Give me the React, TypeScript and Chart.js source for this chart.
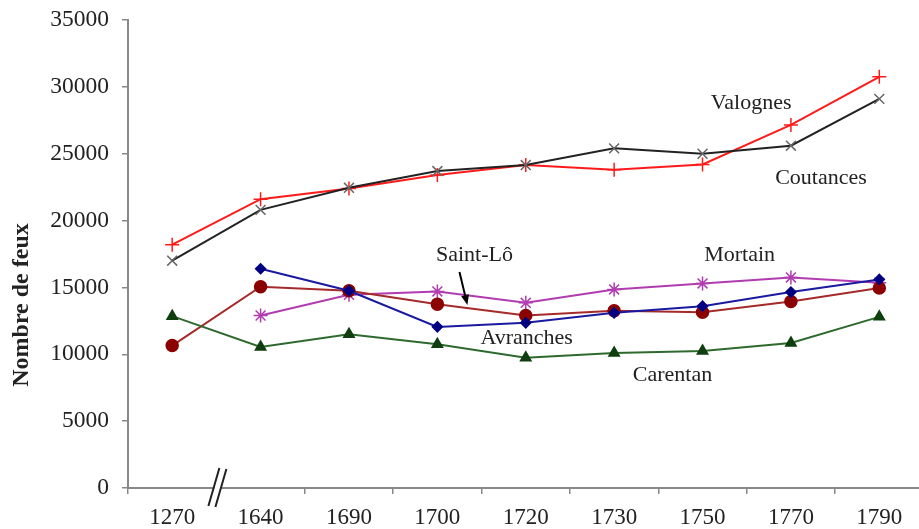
import React, { useEffect, useRef } from "react";
import { Chart, registerables } from "chart.js";

Chart.register(...registerables);

const years = ["1270", "1640", "1690", "1700", "1720", "1730", "1750", "1770", "1790"];
const valognes = [18200, 21600, 22400, 23400, 24150, 23800, 24200, 27150, 30750];
const coutances = [17000, 20800, 22450, 23700, 24150, 25400, 25000, 25600, 29100];
const mortain = [null, 12900, 14450, 14700, 13850, 14850, 15300, 15750, 15350];
const saintLo = [10650, 15050, 14750, 13750, 12900, 13250, 13150, 13950, 14950];
const avranches = [null, 16400, 14750, 12050, 12350, 13100, 13600, 14650, 15600];
const carentan = [12850, 10550, 11500, 10750, 9750, 10100, 10250, 10850, 12800];
const yMax = 35000;
const yStep = 5000;

// annotations: [text, fractional category index, value]
const annotations: [string, number, number][] = [
  ["Valognes", 6.55, 28800],
  ["Coutances", 7.34, 23200],
  ["Mortain", 6.42, 17430],
  ["Saint-Lô", 3.42, 17430],
  ["Avranches", 4.01, 11220],
  ["Carentan", 5.66, 8450],
];
const arrowFrom: [number, number] = [3.25, 16160];
const arrowTo: [number, number] = [3.34, 13690];
const yTitle = "Nombre de feux";

const FONT = "'Liberation Serif', 'Times New Roman', serif";

const overlay = {
  id: "overlay",
  afterDraw(chart: any) {
    const ctx = chart.ctx;
    const xs = chart.scales.x;
    const ys = chart.scales.y;
    ctx.save();
    ctx.fillStyle = "#222";
    ctx.font = `22px ${FONT}`;
    ctx.textAlign = "center";
    ctx.textBaseline = "middle";
    for (const [t, i, v] of annotations) {
      ctx.fillText(t, xs.getPixelForValue(i), ys.getPixelForValue(v));
    }
    const x1 = xs.getPixelForValue(arrowFrom[0]);
    const y1 = ys.getPixelForValue(arrowFrom[1]);
    const x2 = xs.getPixelForValue(arrowTo[0]);
    const y2 = ys.getPixelForValue(arrowTo[1]);
    const ang = Math.atan2(y2 - y1, x2 - x1);
    ctx.strokeStyle = "#000";
    ctx.lineWidth = 2;
    ctx.beginPath();
    ctx.moveTo(x1, y1);
    ctx.lineTo(x2 - 6 * Math.cos(ang), y2 - 6 * Math.sin(ang));
    ctx.stroke();
    ctx.fillStyle = "#000";
    ctx.beginPath();
    ctx.moveTo(x2, y2);
    ctx.lineTo(x2 - 10 * Math.cos(ang) + 4 * Math.sin(ang), y2 - 10 * Math.sin(ang) - 4 * Math.cos(ang));
    ctx.lineTo(x2 - 10 * Math.cos(ang) - 4 * Math.sin(ang), y2 - 10 * Math.sin(ang) + 4 * Math.cos(ang));
    ctx.closePath();
    ctx.fill();
    ctx.fillStyle = "#222";
    ctx.font = `bold 24px ${FONT}`;
    ctx.translate(22, 305);
    ctx.rotate(-Math.PI / 2);
    ctx.fillText(yTitle, 0, 0);
    ctx.restore();
    // axis break
    ctx.save();
    const bx = (xs.getPixelForValue(0) + xs.getPixelForValue(1)) / 2;
    const by = ys.getPixelForValue(0);
    ctx.fillStyle = "#fff";
    ctx.fillRect(bx - 2, by - 3, 7, 6);
    ctx.strokeStyle = "#222";
    ctx.lineWidth = 2;
    ctx.beginPath();
    ctx.moveTo(bx - 8, by + 18);
    ctx.lineTo(bx + 3, by - 20);
    ctx.moveTo(bx - 1, by + 19);
    ctx.lineTo(bx + 10, by - 19);
    ctx.stroke();
    ctx.restore();
  },
};

export default function App() {
  const ref = useRef<HTMLCanvasElement>(null);
  useEffect(() => {
    const mk = (label: string, data: any[], line: string, pt: string, style: string, r: number, fill?: string) => ({
      label,
      data,
      borderColor: line,
      backgroundColor: fill ?? pt,
      pointBorderColor: pt,
      pointBackgroundColor: fill ?? pt,
      pointStyle: style,
      pointRadius: r,
      pointBorderWidth: 1.5,
      borderWidth: 2,
      tension: 0,
      spanGaps: false,
    });
    const chart = new Chart(ref.current!, {
      type: "line",
      data: {
        labels: years,
        datasets: [
          mk("Carentan", carentan, "#2e6a2e", "#0f3f0f", "triangle", 6),
          mk("Avranches", avranches, "#1a1aa0", "#000080", "rectRot", 5),
          mk("Saint-Lô", saintLo, "#a52a2a", "#8b0000", "circle", 6),
          mk("Mortain", mortain, "#b03cb0", "#b03cb0", "star", 7),
          mk("Coutances", coutances, "#222222", "#666666", "crossRot", 7),
          mk("Valognes", valognes, "#ff1a1a", "#ff1a1a", "cross", 7),
        ] as any,
      },
      options: {
        animation: false,
        responsive: false,
        maintainAspectRatio: false,
        layout: { padding: { top: 20, right: 0, left: 0, bottom: 0 } },
        plugins: { legend: { display: false }, tooltip: { enabled: false } },
        scales: {
          x: {
            offset: true,
            grid: {
              offset: true,
              drawOnChartArea: false,
              drawTicks: true,
              tickLength: 6,
              color: (c: any) => (c.index === 1 ? "rgba(0,0,0,0)" : "#888"),
              lineWidth: 1.5,
            },
            border: { color: "#888", width: 2 },
            ticks: { color: "#222", font: { family: FONT, size: 23 }, padding: 10, maxRotation: 0, autoSkip: false },
            afterFit: (s: any) => {
              s.height = 41;
            },
          },
          y: {
            min: 0,
            max: yMax,
            grid: { drawOnChartArea: false, tickLength: 6, color: "#888", lineWidth: 1.5 },
            border: { color: "#888", width: 2 },
            ticks: {
              stepSize: yStep,
              color: "#222",
              font: { family: FONT, size: 23.5 },
              padding: 13,
              callback: (v: any) => String(v),
            },
            afterFit: (s: any) => {
              s.width = 128;
              s.paddingTop = 0;
              s.paddingBottom = 0;
            },
          },
        },
      },
      plugins: [overlay],
    });
    return () => chart.destroy();
  }, []);
  return (
    <div style={{ position: "fixed", left: 0, top: 0, width: 919, height: 529, overflow: "hidden", background: "#fff" }}>
      <canvas ref={ref} width={932} height={529} style={{ display: "block", width: 932, height: 529 }} />
    </div>
  );
}
